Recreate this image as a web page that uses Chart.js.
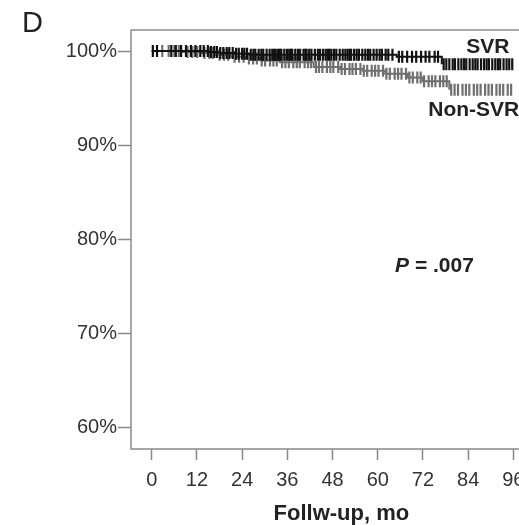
<!DOCTYPE html>
<html>
<head>
<meta charset="utf-8">
<script src="https://cdn.jsdelivr.net/npm/chart.js@4/dist/chart.umd.min.js"></script>
<style>
  html, body { margin: 0; padding: 0; background: #fff; overflow: hidden; }
  #wrap { width: 519px; height: 525px; overflow: hidden; }
</style>
</head>
<body>
<div id="wrap"><canvas id="kmChart" width="560" height="525"></canvas></div>
<script>
// Kaplan-Meier steps (months, cumulative survival %)
const svrTime = [0, 15, 18, 22, 26, 65, 77];
const svrSurv = [100, 99.9, 99.8, 99.7, 99.6, 99.4, 98.6];

const nonSvrTime = [0, 8, 13, 17, 21, 25, 29, 34, 43, 50, 56, 62, 68, 72, 79];
const nonSvrSurv = [100, 99.9, 99.8, 99.6, 99.4, 99.2, 99.0, 98.8, 98.3, 98.1, 97.9, 97.6, 97.2, 96.8, 95.9];

// censored patients (months)
const svrCensor = [0.3, 1.4, 5.2, 6.4, 7.8, 9.1, 10.4, 11.6, 12.9, 13.8, 14.9, 15.7, 16.6, 17.3, 18.2,
  19.0, 19.9, 20.6, 21.5, 22.4, 23.1, 24.0, 24.6, 25.3, 26.3, 27.0, 27.5, 28.4, 29.1, 29.6, 30.5, 31.3, 32.0, 32.5, 32.9,
  33.5, 34.0, 34.4, 35.2, 35.9, 36.5, 37.0, 37.3, 38.1, 38.8, 39.4, 40.3, 40.8, 41.1, 41.8, 42.4, 43.3, 44.1, 44.7,
  45.5, 46.2, 46.8, 47.2, 47.7, 48.4, 49.0, 49.9, 50.7, 51.4, 52.0, 52.5, 52.9, 53.7, 54.4, 55.0, 55.9, 56.7,
  57.4, 58.0, 58.9, 59.7, 60.5, 61.1, 62.1, 62.8, 63.9, 65.6, 66.5, 67.8, 69.1, 70.2, 71.5, 72.7,
  73.7, 75.1, 76.0, 77.5, 78.2, 79.0, 79.9, 80.5, 81.4, 82.2, 82.9, 83.5, 84.4, 85.2, 85.9, 86.5,
  87.4, 88.2, 88.9, 89.5, 90.4, 91.2, 91.9, 92.5, 93.4, 94.2, 94.9, 95.7];
const nonSvrCensor = [2.8, 4.5, 6.0, 7.2, 9.5, 10.8, 12.1, 14.0, 15.3, 16.2, 18.0, 19.2, 20.3, 22.0,
  23.2, 24.4, 25.8, 26.9, 27.9, 29.2, 30.1, 31.4, 32.3, 33.2, 34.6, 35.5, 36.4, 37.6, 38.5, 39.3,
  40.6, 41.5, 42.3, 43.6, 44.4, 45.3, 46.5, 47.4, 48.2, 49.5, 50.4, 51.3, 52.5, 53.3, 54.2, 55.4,
  56.3, 57.2, 58.4, 59.3, 60.2, 61.4, 62.3, 63.2, 64.5, 65.4, 66.3, 67.5, 68.4, 69.3, 70.5, 71.4,
  72.3, 73.5, 74.4, 75.3, 76.5, 77.4, 78.3, 79.5, 80.4, 81.3, 82.5, 83.4, 84.3, 85.5, 86.4, 87.3,
  88.5, 89.4, 90.3, 91.5, 92.4, 93.3, 94.5, 95.4];

const xTickValues = [0, 12, 24, 36, 48, 60, 72, 84, 96];
const yTickValues = [60, 70, 80, 90, 100];
const yTickLabels = ['60%', '70%', '80%', '90%', '100%'];

const svrColor = '#111111';
const nonSvrColor = '#6f6f6f';
const fontFamily = '"Liberation Sans", Arial, sans-serif';

// survival level in effect at time t
function survAt(times, surv, t) {
  let s = surv[0];
  for (let i = 0; i < times.length; i++) {
    if (times[i] <= t) s = surv[i];
  }
  return s;
}

const stepPoints = (times, surv) => times.map((t, i) => ({ x: t, y: surv[i] }));
const censorPoints = (cens, times, surv) => cens.map(t => ({ x: t, y: survAt(times, surv, t) }));

// frame, panel letter, group labels and p-value
const decorPlugin = {
  id: 'decor',
  beforeDatasetsDraw(chart) {
    const { ctx, chartArea: a } = chart;
    ctx.save();
    ctx.strokeStyle = '#8a8a8a';
    ctx.lineWidth = 1.5;
    ctx.strokeRect(a.left, a.top, a.right - a.left, a.bottom - a.top);
    ctx.restore();
  },
  afterDraw(chart) {
    const { ctx } = chart;
    const xs = chart.scales.x, ys = chart.scales.y;
    ctx.save();
    ctx.fillStyle = '#222';
    ctx.textBaseline = 'middle';
    ctx.font = '29px ' + fontFamily;
    ctx.fillText('D', 22, 24);

    ctx.font = 'bold 21px ' + fontFamily;
    ctx.textAlign = 'center';
    ctx.fillText('SVR', xs.getPixelForValue(89.2), ys.getPixelForValue(100.4));
    ctx.textAlign = 'left';
    ctx.fillText('Non-SVR', xs.getPixelForValue(73.4), ys.getPixelForValue(93.7));

    const px = xs.getPixelForValue(64.6), py = ys.getPixelForValue(77.2);
    ctx.font = 'italic bold 21px ' + fontFamily;
    ctx.fillText('P', px, py);
    const w = ctx.measureText('P').width;
    ctx.font = 'bold 21px ' + fontFamily;
    ctx.fillText(' = .007', px + w, py);
    ctx.restore();
  }
};

const ctx = document.getElementById('kmChart').getContext('2d');
new Chart(ctx, {
  type: 'scatter',
  data: {
    datasets: [
      {
        label: 'SVR censored',
        data: censorPoints(svrCensor, svrTime, svrSurv),
        pointStyle: 'line', rotation: 90, pointRadius: 6,
        pointBorderWidth: 2.2, borderColor: svrColor, backgroundColor: svrColor,
        showLine: false, order: 0
      },
      {
        label: 'SVR',
        data: stepPoints(svrTime, svrSurv),
        showLine: true, stepped: 'before', borderColor: svrColor, borderWidth: 2,
        pointRadius: 0, order: 1
      },
      {
        label: 'Non-SVR censored',
        data: censorPoints(nonSvrCensor, nonSvrTime, nonSvrSurv),
        pointStyle: 'line', rotation: 90, pointRadius: 6,
        pointBorderWidth: 2.2, borderColor: nonSvrColor, backgroundColor: nonSvrColor,
        showLine: false, order: 2
      },
      {
        label: 'Non-SVR',
        data: stepPoints(nonSvrTime, nonSvrSurv),
        showLine: true, stepped: 'before', borderColor: nonSvrColor, borderWidth: 2,
        pointRadius: 0, order: 3
      }
    ]
  },
  options: {
    responsive: false,
    animation: false,
    layout: { padding: { top: 30, left: 0, right: 0, bottom: 0 } },
    plugins: { legend: { display: false }, tooltip: { enabled: false } },
    scales: {
      x: {
        type: 'linear',
        min: -5.5, max: 106.2,
        afterFit: s => { s.height = 76; },
        afterBuildTicks: s => { s.ticks = xTickValues.map(v => ({ value: v })); },
        border: { display: false },
        grid: { drawOnChartArea: false, tickLength: 11, tickColor: '#888', tickWidth: 1.5 },
        ticks: {
          padding: 8, color: '#333', maxRotation: 0, autoSkip: false,
          font: { family: fontFamily, size: 20 }
        },
        title: {
          display: true, text: 'Follw-up, mo', color: '#222',
          padding: { top: 0, bottom: 0 },
          font: { family: fontFamily, size: 22, weight: 'bold', lineHeight: 1.0 }
        }
      },
      y: {
        min: 57.77, max: 102.23,
        afterFit: s => { s.width = 131; },
        afterBuildTicks: s => { s.ticks = yTickValues.map(v => ({ value: v })); },
        border: { display: false },
        grid: { drawOnChartArea: false, tickLength: 13, tickColor: '#888', tickWidth: 1.5 },
        ticks: {
          padding: 1, color: '#333',
          font: { family: fontFamily, size: 20 },
          callback: v => yTickLabels[yTickValues.indexOf(v)]
        }
      }
    }
  },
  plugins: [decorPlugin]
});
</script>
</body>
</html>
